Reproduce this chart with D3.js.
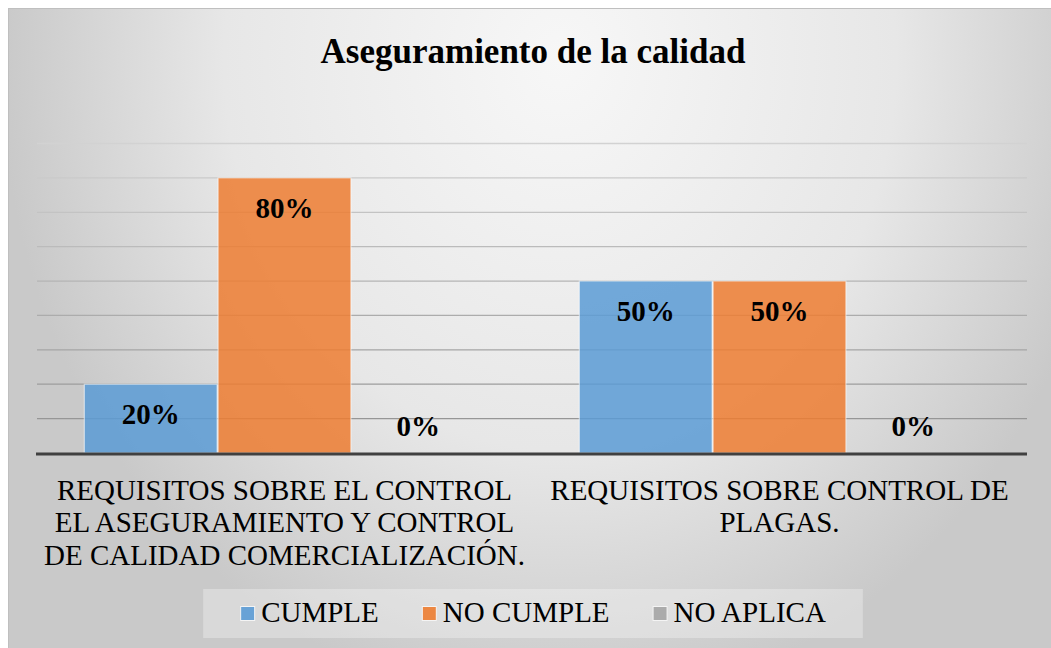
<!DOCTYPE html>
<html lang="es">
<head>
    <meta charset="UTF-8">
    <title>Aseguramiento de la calidad</title>
    <script src="https://d3js.org/d3.v7.min.js"></script>
    <style>
        body {
            margin: 0;
            background: #fff;
        }
        text {
            font-family: "Liberation Serif", "Times New Roman", serif;
            fill: #000;
        }
        .title {
            font-size: 35px;
            font-weight: bold;
        }
        .value {
            font-size: 29px;
            font-weight: bold;
        }
        .cat-label, .legend-text {
            font-size: 29px;
        }
    </style>
</head>
<body>
    <div id="chart"></div>
    <script>
        // data
        const categories = ["Control y aseguramiento de calidad", "Control de plagas"];
        // tick labels, line by line as in the original
        const categoryLabels = [
            ["REQUISITOS SOBRE EL CONTROL", "EL ASEGURAMIENTO Y CONTROL", "DE CALIDAD COMERCIALIZACIÓN."],
            ["REQUISITOS SOBRE CONTROL DE", "PLAGAS."]
        ];
        const seriesNames = ["CUMPLE", "NO CUMPLE", "NO APLICA"];
        const cumple = [0.20, 0.50];
        const noCumple = [0.80, 0.50];
        const noAplica = [0, 0];
        const yTicks = [0, 0.1, 0.2, 0.3, 0.4, 0.5, 0.6, 0.7, 0.8, 0.9];

        const colors = ["#5B9BD5", "#ED7D31", "#A5A5A5"];
        const width = 1051;
        const height = 648;

        const svg = d3.select("#chart")
            .append("svg")
            .attr("width", width)
            .attr("height", height);

        // background with the soft radial shading
        const defs = svg.append("defs");
        const grad = defs.append("radialGradient")
            .attr("id", "bg")
            .attr("gradientUnits", "userSpaceOnUse")
            .attr("cx", 560).attr("cy", 60).attr("r", 560)
            .attr("fx", 560).attr("fy", 60)
            .attr("gradientTransform", "translate(560,60) scale(1,1.16) translate(-560,-60)");
        grad.append("stop").attr("offset", "0%").attr("stop-color", "#f7f7f7");
        grad.append("stop").attr("offset", "60%").attr("stop-color", "#e7e7e7");
        grad.append("stop").attr("offset", "100%").attr("stop-color", "#c9c9c9");

        svg.append("rect")
            .attr("x", 8.5).attr("y", 8.5)
            .attr("width", width - 8)
            .attr("height", height - 8)
            .attr("fill", "url(#bg)")
            .attr("stroke", "#bfbfbf")
            .attr("stroke-width", 1);

        // title
        svg.append("text")
            .attr("class", "title")
            .attr("x", 533)
            .attr("y", 63)
            .attr("text-anchor", "middle")
            .text("Aseguramiento de la calidad");

        // scales
        const plot = { left: 37, right: 1027, top: 143.5, bottom: 453 };

        const x0 = d3.scaleBand()
            .domain(categories)
            .range([plot.left, plot.right])
            .padding(0);

        const x1 = d3.scaleBand()
            .domain(seriesNames)
            .range([0, x0.bandwidth()])
            .paddingInner(0)
            .paddingOuter(0.35);

        const y = d3.scaleLinear()
            .domain([0, 0.9])
            .range([plot.bottom, plot.top]);

        // gridlines (darker towards the bottom)
        const gridColor = d3.interpolateRgb("#d2d2d2", "#8e8e8e");
        svg.append("g")
            .selectAll("line")
            .data(yTicks.filter(d => d > 0))
            .enter()
            .append("line")
            .attr("x1", plot.left)
            .attr("x2", plot.right)
            .attr("y1", d => y(d))
            .attr("y2", d => y(d))
            .attr("stroke", d => gridColor(1 - d / 0.9))
            .attr("stroke-width", 1.3);

        // bars
        const tableData = categories.map((c, i) => ({
            category: c,
            values: [cumple[i], noCumple[i], noAplica[i]]
        }));

        const groups = svg.append("g")
            .selectAll("g")
            .data(tableData)
            .enter()
            .append("g")
            .attr("transform", d => `translate(${x0(d.category)},0)`);

        groups.selectAll("rect")
            .data(d => d.values.map((v, j) => ({ key: seriesNames[j], value: v, idx: j })))
            .enter()
            .append("rect")
            .attr("x", d => x1(d.key) + 0.5)
            .attr("width", x1.bandwidth() - 1)
            .attr("y", d => y(d.value))
            .attr("height", d => y(0) - y(d.value))
            .attr("fill", d => colors[d.idx])
            .attr("fill-opacity", 0.85)
            .attr("stroke", "#ffffff")
            .attr("stroke-opacity", 0.55)
            .attr("stroke-width", 1.2)
            .style("display", d => d.value > 0 ? null : "none");

        // value labels
        groups.selectAll("text")
            .data(d => d.values.map((v, j) => ({ key: seriesNames[j], value: v })))
            .enter()
            .append("text")
            .attr("class", "value")
            .attr("x", d => x1(d.key) + x1.bandwidth() / 2)
            .attr("y", d => d.value > 0 ? y(d.value) + 40 : y(0) - 17)
            .attr("text-anchor", "middle")
            .text(d => Math.round(d.value * 100) + "%");

        // axis baseline
        svg.append("line")
            .attr("x1", plot.left - 1)
            .attr("x2", plot.right)
            .attr("y1", y(0) + 1)
            .attr("y2", y(0) + 1)
            .attr("stroke", "#404040")
            .attr("stroke-width", 3);

        // category labels
        const lineHeight = 32.5;
        categories.forEach((c, i) => {
            const cx = x0(c) + x0.bandwidth() / 2;
            svg.append("text")
                .attr("class", "cat-label")
                .attr("text-anchor", "middle")
                .attr("y", 499.5)
                .selectAll("tspan")
                .data(categoryLabels[i])
                .enter()
                .append("tspan")
                .attr("x", cx)
                .attr("dy", (d, k) => k === 0 ? 0 : lineHeight)
                .text(d => d);
        });

        // legend
        const legend = svg.append("g");
        const legendBox = legend.append("rect")
            .attr("fill", "#ffffff")
            .attr("fill-opacity", 0.3);

        const items = legend.selectAll(".legend-item")
            .data(seriesNames)
            .enter()
            .append("g")
            .attr("class", "legend-item");

        items.append("rect")
            .attr("x", 0.5)
            .attr("y", 606.5)
            .attr("width", 14)
            .attr("height", 14)
            .attr("fill", (d, i) => colors[i])
            .attr("fill-opacity", 0.9)
            .attr("stroke", "#f4f4f4")
            .attr("stroke-width", 1);

        items.append("text")
            .attr("class", "legend-text")
            .attr("x", 21)
            .attr("y", 622)
            .text(d => d);

        // place the items one after the other
        let offset = 0;
        const positions = [];
        items.each(function () {
            const w = d3.select(this).select("text").node().getComputedTextLength();
            positions.push(offset);
            offset += 21 + w + 43;
        });
        const totalWidth = offset - 43;
        const legendLeft = 533 - totalWidth / 2;
        items.attr("transform", (d, i) => `translate(${legendLeft + positions[i]},0)`);

        legendBox
            .attr("x", legendLeft - 37)
            .attr("y", 589)
            .attr("width", totalWidth + 74)
            .attr("height", 49);
    </script>
</body>
</html>
